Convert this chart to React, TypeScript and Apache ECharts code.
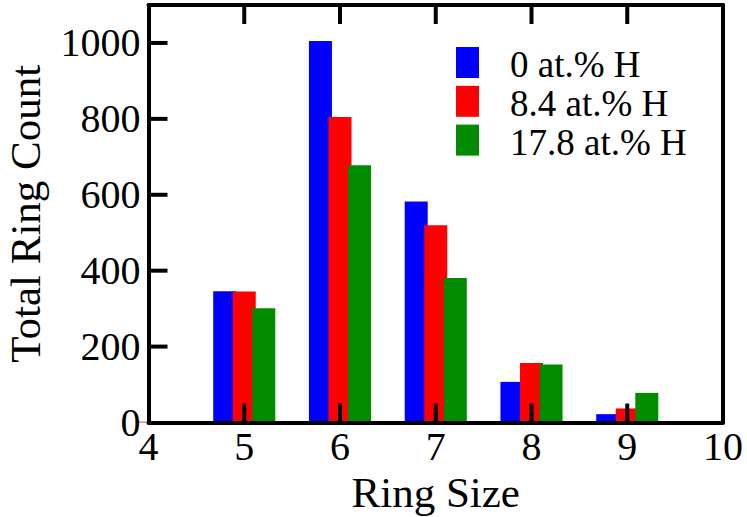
import React, { useEffect, useRef } from "react";
import * as echarts from "echarts";

const ringSizes = [4, 5, 6, 7, 8, 9];
const seriesNames = ["0 at.% H", "8.4 at.% H", "17.8 at.% H"];
const counts0 = [0, 346, 1005, 582, 107, 22];
const counts84 = [2, 345, 805, 520, 157, 37];
const counts178 = [0, 301, 678, 381, 153, 78];
const seriesColors = ["#0000ff", "#ff0000", "#008b00"];
const xTicks = { min: 4, max: 10, interval: 1 };
const yTicks = { min: 0, max: 1100, interval: 200 };
const xTickValues = [5, 6, 7, 8, 9];
const yTickValues = [200, 400, 600, 800, 1000];

const FONT = "Liberation Serif";
const INK = "#000";
const TICK_LEN = 19;
const TICK_W = 4;

export default function App() {
  const ref = useRef<HTMLDivElement>(null);
  useEffect(() => {
    if (!ref.current) return;
    const chart = echarts.init(ref.current, null, { renderer: "svg" });
    const all = [counts0, counts84, counts178];
    const legendRects = seriesNames.map((_n, i) => ({
      type: "rect",
      x: 456,
      y: 47 + i * 38.8,
      shape: { x: 0, y: 0, width: 23, height: 31 },
      style: { fill: seriesColors[i] },
      z: 20,
    }));
    const legendTitles = seriesNames.map((name, i) => ({
      text: name,
      left: 510,
      top: 47 + i * 38.8 + 2,
      padding: 0,
      itemGap: 0,
      textStyle: {
        fontFamily: FONT,
        fontSize: 37,
        fontWeight: "normal",
        color: INK,
        lineHeight: 31,
      },
    }));
    const fillTick = { fill: INK };
    chart.setOption({
      animation: false,
      backgroundColor: "#fff",
      textStyle: { fontFamily: FONT, color: INK },
      grid: { left: 148.5, right: 24, top: 5, bottom: 94.5, outerBoundsMode: "none" },
      title: legendTitles,
      graphic: legendRects,
      xAxis: [
        {
          type: "value",
          position: "bottom",
          z: 10,
          min: xTicks.min,
          max: xTicks.max,
          interval: xTicks.interval,
          name: "Ring Size",
          nameLocation: "middle",
          nameGap: 42,
          nameTextStyle: { fontFamily: FONT, fontSize: 43, color: INK },
          axisLine: { show: true, onZero: false, lineStyle: { color: INK, width: 4 } },
          axisTick: { show: false },
          axisLabel: { fontFamily: FONT, fontSize: 40, color: INK, margin: 4 },
          splitLine: { show: false },
        },
        {
          type: "value",
          position: "top",
          z: 10,
          min: xTicks.min,
          max: xTicks.max,
          interval: xTicks.interval,
          axisLine: { show: true, onZero: false, lineStyle: { color: INK, width: 4 } },
          axisTick: { show: false },
          axisLabel: { show: false },
          splitLine: { show: false },
        },
      ],
      yAxis: [
        {
          type: "value",
          position: "left",
          z: 10,
          min: yTicks.min,
          max: yTicks.max,
          interval: yTicks.interval,
          name: "Total Ring Count",
          nameLocation: "middle",
          nameGap: 102,
          nameTextStyle: { fontFamily: FONT, fontSize: 43, color: INK },
          axisLine: { show: true, onZero: false, lineStyle: { color: INK, width: 4 } },
          axisTick: { show: false },
          axisLabel: {
            fontFamily: FONT,
            fontSize: 40,
            color: INK,
            margin: 8,
            showMaxLabel: false,
            formatter: (v: number) => String(v),
          },
          splitLine: { show: false },
        },
        {
          type: "value",
          position: "right",
          z: 10,
          min: yTicks.min,
          max: yTicks.max,
          interval: yTicks.interval,
          axisLine: { show: true, onZero: false, lineStyle: { color: INK, width: 4 } },
          axisTick: { show: false },
          axisLabel: { show: false },
          splitLine: { show: false },
        },
      ],
      series: [
        ...seriesNames.map((name, i) => ({
          name,
          type: "bar",
          xAxisIndex: 0,
          yAxisIndex: 0,
          barWidth: 23,
          barGap: "-15%",
          clip: true,
          itemStyle: { color: seriesColors[i] },
          data: ringSizes.map((x, j) => [x, all[i][j]]),
        })),
        {
          name: "xTicks",
          type: "custom",
          xAxisIndex: 0,
          yAxisIndex: 0,
          z: 30,
          silent: true,
          data: xTickValues.map((v) => [v, yTicks.min]),
          renderItem: (_p: any, api: any) => {
            const b = api.coord([api.value(0), yTicks.min]);
            const t = api.coord([api.value(0), yTicks.max]);
            return {
              type: "group",
              children: [
                {
                  type: "rect",
                  shape: { x: b[0] - TICK_W / 2, y: b[1] - TICK_LEN, width: TICK_W, height: TICK_LEN },
                  style: fillTick,
                },
                {
                  type: "rect",
                  shape: { x: t[0] - TICK_W / 2, y: t[1], width: TICK_W, height: TICK_LEN },
                  style: fillTick,
                },
              ],
            };
          },
        },
        {
          name: "yTicks",
          type: "custom",
          xAxisIndex: 0,
          yAxisIndex: 0,
          z: 30,
          silent: true,
          data: yTickValues.map((v) => [xTicks.min, v]),
          renderItem: (_p: any, api: any) => {
            const l = api.coord([xTicks.min, api.value(1)]);
            return {
              type: "rect",
              shape: { x: l[0], y: l[1] - TICK_W / 2, width: TICK_LEN, height: TICK_W },
              style: fillTick,
            };
          },
        },
      ],
    });
    return () => chart.dispose();
  }, []);
  return <div ref={ref} style={{ position: "fixed", left: 0, top: 0, width: 747, height: 517 }} />;
}
